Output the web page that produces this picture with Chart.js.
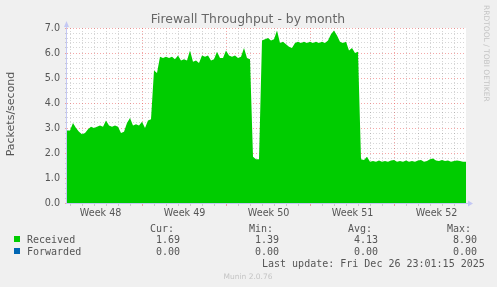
<!DOCTYPE html>
<html>
<head>
<meta charset="utf-8">
<script src="https://cdn.jsdelivr.net/npm/chart.js@4.4.1/dist/chart.umd.min.js"></script>
<style>
html, body { margin: 0; padding: 0; background: #f0f0f0; }
canvas { display: block; }
</style>
</head>
<body>
<canvas id="throughputChart" width="497" height="287"></canvas>
<script>
const chartTitle = "Firewall Throughput - by month";
const yAxisTitle = "Packets/second";
const sideNote = "RRDTOOL / TOBI OETIKER";
const footer = "Munin 2.0.76";
const lastUpdate = "Last update: Fri Dec 26 23:01:15 2025";

// one sample every 6 hours (0.25 day), day 0 = left edge of the plot
const stepDays = 0.25;

const received = [
    2.9, 2.9, 3.2, 3.0, 2.85, 2.75, 2.8, 2.95, 3.05, 3.0,
    3.05, 3.1, 3.05, 3.3, 3.1, 3.05, 3.1, 3.05, 2.8, 2.85,
    3.2, 3.4, 3.1, 3.15, 3.1, 3.25, 3.0, 3.3, 3.35, 5.3,
    5.2, 5.85, 5.8, 5.85, 5.8, 5.85, 5.75, 5.9, 5.7, 5.75,
    5.7, 6.1, 5.65, 5.7, 5.6, 5.9, 5.85, 5.9, 5.7, 5.75,
    6.05, 5.8, 5.8, 6.1, 5.9, 5.85, 5.9, 5.8, 5.85, 6.2,
    5.8, 5.75, 1.85, 1.75, 1.75, 6.5, 6.55, 6.6, 6.5, 6.55,
    6.9, 6.4, 6.45, 6.35, 6.25, 6.2, 6.4, 6.45, 6.4, 6.45,
    6.4, 6.45, 6.4, 6.45, 6.4, 6.45, 6.4, 6.5, 6.75, 6.9,
    6.7, 6.45, 6.4, 6.45, 6.1, 6.2, 6.0, 6.05, 1.75, 1.72,
    1.85, 1.65, 1.68, 1.65, 1.7, 1.65, 1.68, 1.65, 1.7, 1.72,
    1.65, 1.68, 1.65, 1.7, 1.65, 1.68, 1.65, 1.7, 1.72, 1.65,
    1.68, 1.75, 1.78, 1.7, 1.68, 1.72, 1.68, 1.7, 1.65, 1.68,
    1.7, 1.68, 1.65, 1.65
];

const forwarded = [
    0, 0, 0, 0, 0, 0, 0, 0, 0, 0,
    0, 0, 0, 0, 0, 0, 0, 0, 0, 0,
    0, 0, 0, 0, 0, 0, 0, 0, 0, 0,
    0, 0, 0, 0, 0, 0, 0, 0, 0, 0,
    0, 0, 0, 0, 0, 0, 0, 0, 0, 0,
    0, 0, 0, 0, 0, 0, 0, 0, 0, 0,
    0, 0, 0, 0, 0, 0, 0, 0, 0, 0,
    0, 0, 0, 0, 0, 0, 0, 0, 0, 0,
    0, 0, 0, 0, 0, 0, 0, 0, 0, 0,
    0, 0, 0, 0, 0, 0, 0, 0, 0, 0,
    0, 0, 0, 0, 0, 0, 0, 0, 0, 0,
    0, 0, 0, 0, 0, 0, 0, 0, 0, 0,
    0, 0, 0, 0, 0, 0, 0, 0, 0, 0,
    0, 0, 0, 0
];

const weekLabels = ["Week 48", "Week 49", "Week 50", "Week 51", "Week 52"];
const weekCenters = [2.8, 9.8, 16.8, 23.8, 30.8];
const weekStarts = [6.28, 13.28, 20.28, 27.28];
const dayLines = [
    0.28, 1.28, 2.28, 3.28, 4.28, 5.28, 6.28, 7.28, 8.28, 9.28, 10.28,
    11.28, 12.28, 13.28, 14.28, 15.28, 16.28, 17.28, 18.28, 19.28, 20.28,
    21.28, 22.28, 23.28, 24.28, 25.28, 26.28, 27.28, 28.28, 29.28, 30.28,
    31.28, 32.28
];

const yMax = 7;
const yMinorPerUnit = 5;

const statHeaders = ["Cur:", "Min:", "Avg:", "Max:"];
const seriesNames = ["Received", "Forwarded"];
const seriesColors = ["#00cc00", "#0066b3"];
const receivedStats = ["1.69", "1.39", "4.13", "8.90"];
const forwardedStats = ["0.00", "0.00", "0.00", "0.00"];

const majorGrid = "rgba(230, 60, 60, 0.45)";
const minorGrid = "rgba(0, 0, 0, 0.16)";
const axisColor = "#c4c8f4";
const textColor = "#555555";

function toPoints(values) {
    return values.map((v, i) => ({ x: i * stepDays, y: v }));
}

function xGridColor(tick) {
    if (!tick) return minorGrid;
    if (tick.kind === "label") return "rgba(0,0,0,0)";
    if (tick.kind === "week") return majorGrid;
    return minorGrid;
}

function isWhole(v) {
    return Math.abs(v - Math.round(v)) < 1e-6;
}

function yGridColor(tick) {
    if (!tick) return minorGrid;
    return isWhole(tick.value) ? majorGrid : minorGrid;
}

const muninDecor = {
    id: "muninDecor",
    beforeDraw(chart) {
        const ctx = chart.ctx;
        const a = chart.chartArea;
        ctx.save();
        ctx.fillStyle = "#f0f0f0";
        ctx.fillRect(0, 0, chart.width, chart.height);
        ctx.fillStyle = "#ffffff";
        ctx.fillRect(a.left, a.top, a.right - a.left, a.bottom - a.top);
        ctx.restore();
    },
    afterDraw(chart) {
        const ctx = chart.ctx;
        const a = chart.chartArea;
        ctx.save();

        // axes with arrows
        ctx.strokeStyle = axisColor;
        ctx.lineWidth = 1;
        ctx.beginPath();
        ctx.moveTo(a.left - 0.5, a.bottom + 1);
        ctx.lineTo(a.left - 0.5, a.top - 4);
        ctx.moveTo(a.left - 1, a.bottom + 0.5);
        ctx.lineTo(a.right + 2, a.bottom + 0.5);
        ctx.stroke();
        ctx.fillStyle = axisColor;
        ctx.beginPath();
        ctx.moveTo(a.left - 3, a.top - 1);
        ctx.lineTo(a.left + 2, a.top - 1);
        ctx.lineTo(a.left - 0.5, a.top - 7);
        ctx.closePath();
        ctx.fill();
        ctx.beginPath();
        ctx.moveTo(a.right + 2, a.bottom - 2.5);
        ctx.lineTo(a.right + 2, a.bottom + 3.5);
        ctx.lineTo(a.right + 7, a.bottom + 0.5);
        ctx.closePath();
        ctx.fill();

        // title
        ctx.fillStyle = "#666666";
        ctx.font = "12.4px 'DejaVu Sans'";
        ctx.textAlign = "center";
        ctx.textBaseline = "alphabetic";
        ctx.fillText(chartTitle, 248, 23);

        // y axis title
        ctx.save();
        ctx.translate(14, 114);
        ctx.rotate(-Math.PI / 2);
        ctx.font = "11px 'DejaVu Sans'";
        ctx.fillStyle = textColor;
        ctx.fillText(yAxisTitle, 0, 0);
        ctx.restore();

        // side note
        ctx.save();
        ctx.translate(484, 5);
        ctx.rotate(Math.PI / 2);
        ctx.font = "7.5px 'DejaVu Sans'";
        ctx.fillStyle = "#c4c4c4";
        ctx.textAlign = "left";
        ctx.fillText(sideNote, 0, 0);
        ctx.restore();

        // legend
        ctx.font = "10px 'DejaVu Sans Mono'";
        ctx.fillStyle = textColor;
        ctx.textAlign = "left";
        const headerX = [150, 249, 348, 447];
        const valueX = [156, 255, 354, 453];
        statHeaders.forEach((h, i) => ctx.fillText(h, headerX[i], 231.5));

        const rows = [receivedStats, forwardedStats];
        const rowY = [243, 255];
        rows.forEach((stats, r) => {
            ctx.fillStyle = seriesColors[r];
            ctx.fillRect(14, rowY[r] - 7, 6, 6);
            ctx.fillStyle = textColor;
            ctx.fillText(seriesNames[r], 27, rowY[r]);
            stats.forEach((s, i) => ctx.fillText(s, valueX[i], rowY[r]));
        });

        ctx.fillText(lastUpdate, 262, 267);

        ctx.font = "7.5px 'DejaVu Sans'";
        ctx.fillStyle = "#c4c4c4";
        ctx.textAlign = "center";
        ctx.fillText(footer, 248, 279);

        ctx.restore();
    }
};

function createThroughputChart() {

    const canvas = document.getElementById("throughputChart");

    if (!canvas) return;

    new Chart(canvas, {

        type: "line",

        data: {
            datasets: [
                {
                    label: seriesNames[1],
                    data: toPoints(forwarded),
                    borderWidth: 0,
                    pointRadius: 0,
                    fill: "origin",
                    backgroundColor: seriesColors[1]
                },
                {
                    label: seriesNames[0],
                    data: toPoints(received),
                    borderWidth: 0,
                    pointRadius: 0,
                    tension: 0,
                    fill: "origin",
                    backgroundColor: seriesColors[0]
                }
            ]
        },

        options: {
            responsive: false,
            animation: false,
            devicePixelRatio: 1,
            layout: {
                padding: { left: 0, top: 28, right: 31, bottom: 0 }
            },
            plugins: {
                legend: { display: false },
                tooltip: { enabled: false },
                title: { display: false }
            },
            scales: {
                x: {
                    type: "linear",
                    min: 0,
                    max: (received.length - 1) * stepDays,
                    z: 1,
                    afterBuildTicks: function (scale) {
                        const ticks = [];
                        dayLines.forEach(d => ticks.push({
                            value: d,
                            kind: weekStarts.includes(d) ? "week" : "day"
                        }));
                        weekCenters.forEach((d, i) => ticks.push({
                            value: d,
                            kind: "label",
                            text: weekLabels[i]
                        }));
                        ticks.sort((p, q) => p.value - q.value);
                        scale.ticks = ticks;
                    },
                    afterFit: function (scale) {
                        scale.height = 84;
                    },
                    ticks: {
                        autoSkip: false,
                        maxRotation: 0,
                        padding: 2,
                        color: textColor,
                        font: { family: "DejaVu Sans", size: 9.6 },
                        callback: function (value, index, ticks) {
                            const t = ticks[index];
                            return t && t.kind === "label" ? t.text : "";
                        }
                    },
                    grid: {
                        color: ctx => xGridColor(ctx.tick),
                        tickColor: ctx => xGridColor(ctx.tick),
                        tickLength: 3,
                        lineWidth: 1
                    },
                    border: { display: false, dash: [1, 2] }
                },
                y: {
                    min: 0,
                    max: yMax,
                    z: 1,
                    afterBuildTicks: function (scale) {
                        const ticks = [];
                        for (let i = 0; i <= yMax * yMinorPerUnit; i++) {
                            ticks.push({ value: Math.round(i * 10 / yMinorPerUnit) / 10 });
                        }
                        scale.ticks = ticks;
                    },
                    afterFit: function (scale) {
                        scale.width = 67;
                    },
                    ticks: {
                        autoSkip: false,
                        padding: 5,
                        color: textColor,
                        font: { family: "DejaVu Sans", size: 9.6 },
                        callback: v => isWhole(v) ? v.toFixed(1) : ""
                    },
                    grid: {
                        color: ctx => yGridColor(ctx.tick),
                        tickColor: ctx => yGridColor(ctx.tick),
                        tickLength: 2,
                        lineWidth: 1
                    },
                    border: { display: false, dash: [1, 2] }
                }
            }
        },

        plugins: [muninDecor]

    });

}

createThroughputChart();
</script>
</body>
</html>
